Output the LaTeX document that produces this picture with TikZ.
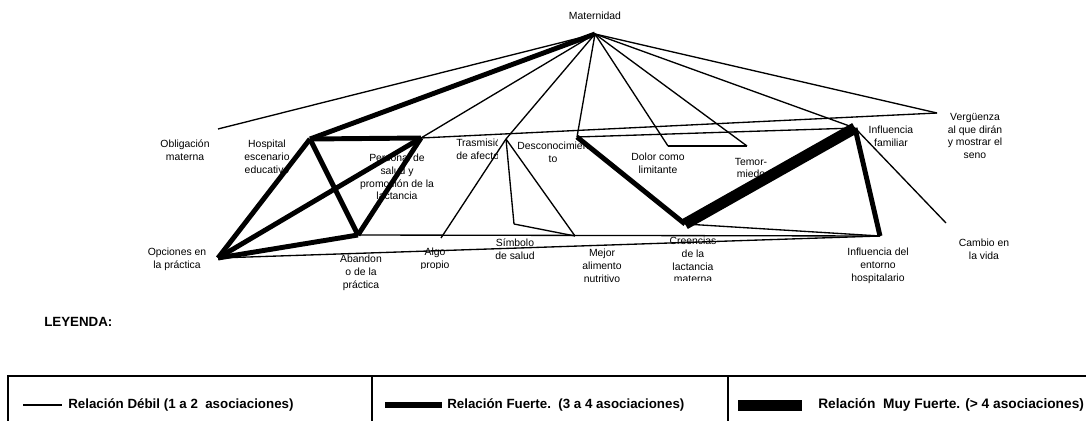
\documentclass[tikz,border=0pt]{standalone}
\usepackage{fontspec}
\setmainfont{Liberation Sans}
\begin{document}
\begin{tikzpicture}[x=0.75pt,y=-0.75pt,
 lbl/.style={font=\fontsize{7.8}{9.6}\selectfont, align=center, inner sep=0pt},
 weak/.style={line width=1pt},
 strong/.style={line width=3.7pt},
 vstrong/.style={line width=8.5pt},
 legtext/.style={font=\fontsize{10}{12}\selectfont\bfseries, anchor=west, inner sep=0pt},
 frame/.style={line width=2pt}]
\useasboundingbox (0,0) rectangle (1086,421);

% vertices
\coordinate (M) at (595,34);
\coordinate (OB) at (218,129);
\coordinate (H) at (310,139);
\coordinate (P) at (421,138);
\coordinate (T) at (506,139);
\coordinate (AL) at (441,238);
\coordinate (S) at (514,224);
\coordinate (MJ) at (575,236);
\coordinate (D) at (577,137);
\coordinate (DO) at (668,146);
\coordinate (TE) at (747,146);
\coordinate (F) at (855,128);
\coordinate (V) at (937,113);
\coordinate (C) at (685,224);
\coordinate (I) at (880,236);
\coordinate (CA) at (946,223);
\coordinate (O) at (218,258);
\coordinate (A) at (358,235);

% labels
\node[lbl] (lMat) at (595,16) {Maternidad};
\node[lbl] (lObl) at (185,150) {Obligación\\materna};
\node[lbl] (lHos) at (267,157) {Hospital\\escenario\\educativo};
\node[lbl] (lPer) at (397,177) {Personal de\\salud y\\promoción de la\\lactancia};
\begin{scope}
 \clip (440,130) rectangle (497,165);
 \node[lbl, align=left, anchor=north west] (lTra) at (456,139) {Trasmisión\\de afecto};
\end{scope}
\node[lbl] (lDes) at (553,152) {Desconocimien\\to};
\node[lbl] (lDol) at (658,163) {Dolor como\\limitante};
\node[lbl] (lTem) at (751,168) {Temor-\\miedo};
\node[lbl] (lFam) at (891,136) {Influencia\\familiar};
\node[lbl] (lVer) at (975,136) {Vergüenza\\al que dirán\\y mostrar el\\seno};
\node[lbl] (lCam) at (984,249) {Cambio en\\la vida};
\node[lbl] (lEnt) at (878,266) {Influencia del\\entorno\\hospitalario};
\begin{scope}
 \clip (640,230) rectangle (740,280);
 \node[lbl] (lCre) at (693,260) {Creencias\\de la\\lactancia\\materna};
\end{scope}
\node[lbl] (lMej) at (602,266) {Mejor\\alimento\\nutritivo};
\node[lbl] (lSim) at (515,249) {Símbolo\\de salud};
\begin{scope}
 \clip (400,240) rectangle (470,268.5);
 \node[lbl] (lAlg) at (435,259) {Algo\\propio};
\end{scope}
\node[lbl] (lAba) at (361,273) {Abandon\\o de la\\práctica};
\node[lbl] (lOpc) at (177,259) {Opciones en\\la práctica};

% weak relations
\draw[weak] (M) -- (OB);
\draw[weak] (M) -- (P);
\draw[weak] (M) -- (T);
\draw[weak] (T) -- (AL);
\draw[weak] (M) -- (D);
\draw[weak] (M) -- (DO);
\draw[weak] (M) -- (TE);
\draw[weak] (DO) -- (TE);
\draw[weak] (M) -- (F);
\draw[weak] (M) -- (V);
\draw[weak] (P) -- (V);
\draw[weak] (D) -- (F);
\draw[weak] (T) -- (S);
\draw[weak] (T) -- (MJ);
\draw[weak] (S) -- (MJ);
\draw[weak] (A) -- (I);
\draw[weak] (O) -- (I);
\draw[weak] (C) -- (I);
\draw[weak] (F) -- (CA);

% strong relations
\draw[strong] (M) -- (H);
\draw[strong] (H) -- (P);
\draw[strong] (H) -- (O);
\draw[strong] (H) -- (A);
\draw[strong] (O) -- (P);
\draw[strong] (P) -- (A);
\draw[strong] (O) -- (A);
\draw[strong] (D) -- (C);
\draw[strong] (F) -- (I);

% very strong
\draw[vstrong] (C) -- (F);

% legend
\node[legtext] (ley) at (44,322) {LEYENDA:};
\coordinate (bl) at (8,430);
\coordinate (tl) at (8,376);
\coordinate (tr) at (1095,376);
\coordinate (d1t) at (372,376);
\coordinate (d1b) at (372,430);
\coordinate (d2t) at (728,376);
\coordinate (d2b) at (728,430);
\draw[frame] (bl) -- (tl) -- (tr);
\draw[frame] (d1t) -- (d1b);
\draw[frame] (d2t) -- (d2b);

\coordinate (w1) at (23,405);
\coordinate (w2) at (62,405);
\draw[weak] (w1) -- (w2);
\node[legtext] (tw) at (68,405) {Relación Débil (1 a 2\ \ asociaciones)};

\coordinate (s1) at (385,405);
\coordinate (s2) at (442,405);
\draw[line width=4.5pt] (s1) -- (s2);
\node[legtext] (ts) at (447,405) {Relación Fuerte.\ \ (3 a 4 asociaciones)};

\coordinate (v1) at (738,400);
\coordinate (v2) at (802,411);
\fill (v1) rectangle (v2);
\node[legtext, font=\fontsize{10.3}{12}\selectfont\bfseries] (tv) at (818,405) {Relación\ \ Muy Fuerte. (> 4 asociaciones)};
\end{tikzpicture}
\end{document}
